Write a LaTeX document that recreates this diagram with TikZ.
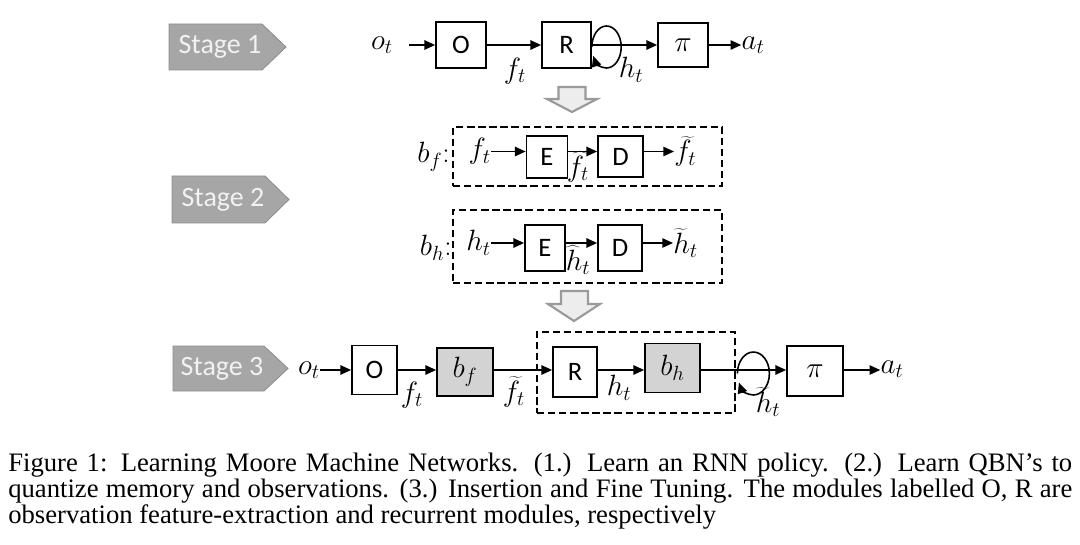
\RequirePackage{fix-cm}
\documentclass[tikz,border=0pt]{standalone}
\usepackage{fontspec}
\newfontfamily\calfont{Carlito}
\newfontfamily\capfont{Liberation Serif}
\usetikzlibrary{arrows.meta,calc}
\definecolor{stagegray}{HTML}{A6A6A6}
\definecolor{stageedge}{HTML}{8C8C8C}
\definecolor{blockfill}{HTML}{D3D3D3}
\definecolor{downfill}{HTML}{EDEDED}
\definecolor{downedge}{HTML}{9A9A9A}
\newcommand{\mfont}{\fontsize{22}{26}\selectfont}
\begin{document}
\begin{tikzpicture}[x=0.75pt,y=-0.75pt,
  box/.style={draw, line width=1.3pt, inner sep=0pt, font=\calfont\fontsize{20}{24}\selectfont},
  gbox/.style={box, fill=blockfill, font=\mfont},
  mlabel/.style={inner sep=0pt, font=\mfont},
  arr/.style={-{Triangle[length=8pt,width=7pt]}, line width=1.2pt},
  dbox/.style={draw, line width=2.1pt, dash pattern=on 5.5pt off 2.8pt, inner sep=0pt},
  stageshape/.style={fill=stagegray, draw=stageedge, line width=0.6pt},
  stagetext/.style={text=white!95!black, font=\calfont\fontsize{21}{24}\selectfont, inner sep=0pt},
  downarrow/.style={fill=downfill, draw=downedge, line width=1.6pt, line join=miter},
  caption/.style={anchor=base west, inner sep=0pt, font=\capfont\fontsize{20}{24}\selectfont}
]
\useasboundingbox (0,0) rectangle (1080,545);

% ---------- Stage labels ----------
\filldraw[stageshape] (169,24) -- (262,24) -- (286,47) -- (262,70) -- (169,70) -- cycle;
\node[stagetext] (st1) at (220,47) {Stage 1};
\filldraw[stageshape] (172,176) -- (265,176) -- (289,199.5) -- (265,223) -- (172,223) -- cycle;
\node[stagetext] (st2) at (223,200) {Stage 2};
\filldraw[stageshape] (173,346) -- (264,346) -- (288,368.5) -- (264,391) -- (173,391) -- cycle;
\node[stagetext] (st3) at (222,368.5) {Stage 3};

% ---------- Stage 1 ----------
\node[mlabel] (o1) at (382,45) {$o_t$};
\node[box, minimum width=37.5pt, minimum height=34.5pt] (O1) at (461,45) {O};
\node[box, minimum width=36.75pt, minimum height=34.5pt] (R1) at (566.5,45) {R};
\node[box, minimum width=37.5pt, minimum height=33pt, font=\mfont] (P1) at (683,45) {$\pi$};
\node[mlabel] (a1) at (753,45) {$a_t$};
\node[mlabel] (f1) at (515,71) {$f_t$};
\node[mlabel] (h1) at (631,70) {$h_t$};
\draw[arr, shorten <=12pt] (o1) -- (O1);
\draw[arr] (O1) -- (R1);
\draw[arr] (R1) -- (P1);
\draw[arr] (P1) -- (a1);
\draw[arr] (R1.east) ++(0,2) arc[start angle=180, end angle=-155, x radius=11pt, y radius=15.75pt];

% down arrow 1
\filldraw[downarrow] (558.5,87) -- (585.5,87) -- (585.5,99) -- (597,99) -- (572,112) -- (547,99) -- (558.5,99) -- cycle;

% ---------- Stage 2 : b_f ----------
\node[mlabel, anchor=east] (bfl) at (450,157) {$b_f$:};
\node[dbox, minimum width=201.75pt, minimum height=44.25pt] (bfbox) at (587.5,156.5) {};
\node[mlabel, anchor=east] (f2) at (491,151.5) {$f_t$};
\node[box, minimum width=30.75pt, minimum height=31.5pt] (E1) at (547,157) {E};
\node[box, minimum width=33.75pt, minimum height=30.75pt] (D1) at (620.5,156.5) {D};
\node[mlabel, anchor=west] (ft2) at (674,151.5) {$\widetilde{f}_t$};
\node[mlabel] (fh2) at (578,167) {$\widehat{f}_t$};
\draw[arr] (f2.east) -- (f2.east -| E1.west);
\draw[arr] (E1.east |- f2.east) -- (D1.west |- f2.east);
\draw[arr] (D1.east |- ft2.west) -- (ft2.west);

% ---------- Stage 2 : b_h ----------
\node[mlabel, anchor=east] (bhl) at (452,248) {$b_h$:};
\node[dbox, minimum width=201.75pt, minimum height=54.75pt] (bhbox) at (587.5,246.5) {};
\node[mlabel, anchor=east] (h2) at (491,243) {$h_t$};
\node[box, minimum width=30pt, minimum height=34.5pt] (E2) at (545,248) {E};
\node[box, minimum width=33pt, minimum height=34.5pt] (D2) at (620,248) {D};
\node[mlabel, anchor=west] (ht2) at (673,243) {$\widetilde{h}_t$};
\node[mlabel] (hh2) at (578,260) {$\widehat{h}_t$};
\draw[arr] (h2.east) -- (h2.east -| E2.west);
\draw[arr] (E2.east |- h2.east) -- (D2.west |- h2.east);
\draw[arr] (D2.east |- ht2.west) -- (ht2.west);

% down arrow 2
\filldraw[downarrow] (561,291) -- (588,291) -- (588,304) -- (600,304) -- (574,321) -- (548,304) -- (561,304) -- cycle;

% ---------- Stage 3 ----------
\coordinate (row3) at (0,370);
\node[dbox, minimum width=148.5pt, minimum height=60.75pt] (ibox) at (636,372.5) {};
\node[mlabel] (o3) at (309,370) {$o_t$};
\node[box, minimum width=33.75pt, minimum height=36.75pt] (O3) at (374.5,370) {O};
\node[gbox, minimum width=42pt, minimum height=36pt] (bf3) at (465,372) {$b_f$};
\node[box, minimum width=33pt, minimum height=37.5pt] (R3) at (575,372) {R};
\node[gbox, minimum width=41.25pt, minimum height=36.75pt] (bh3) at (672.5,368) {$b_h$};
\node[box, minimum width=42pt, minimum height=37.5pt, font=\mfont] (P3) at (815,371) {$\pi$};
\node[mlabel] (a3) at (892,369) {$a_t$};
\node[mlabel] (f3) at (412,395) {$f_t$};
\node[mlabel] (ft3) at (514,392) {$\widetilde{f}_t$};
\node[mlabel] (h3) at (619,388) {$h_t$};
\node[mlabel] (ht3) at (768,402) {$\widetilde{h}_t$};
\draw[arr] (o3.east |- row3) -- (O3.west |- row3);
\draw[arr] (O3.east |- row3) -- (bf3.west |- row3);
\draw[arr] (bf3.east |- row3) -- (R3.west |- row3);
\draw[arr] (R3.east |- row3) -- (bh3.west |- row3);
\draw[arr] (bh3.east |- row3) -- (P3.west |- row3);
\draw[arr] (P3.east |- row3) -- (a3.west |- row3);
\draw[arr] (ibox.east |- row3) ++(1,3.5) arc[start angle=180, end angle=-155, x radius=12pt, y radius=16.1pt];

% ---------- Caption ----------
\node[caption] (cap1) at (8,471) {\makebox[798pt][s]{Figure 1: Learning Moore Machine Networks. (1.) Learn an RNN policy. (2.) Learn QBN’s to}};
\node[caption] (cap2) at (8,497) {\makebox[798pt][s]{quantize memory and observations. (3.) Insertion and Fine Tuning. The modules labelled O, R are}};
\node[caption] (cap3) at (8,523) {observation feature-extraction and recurrent modules, respectively};
\end{tikzpicture}
\end{document}
